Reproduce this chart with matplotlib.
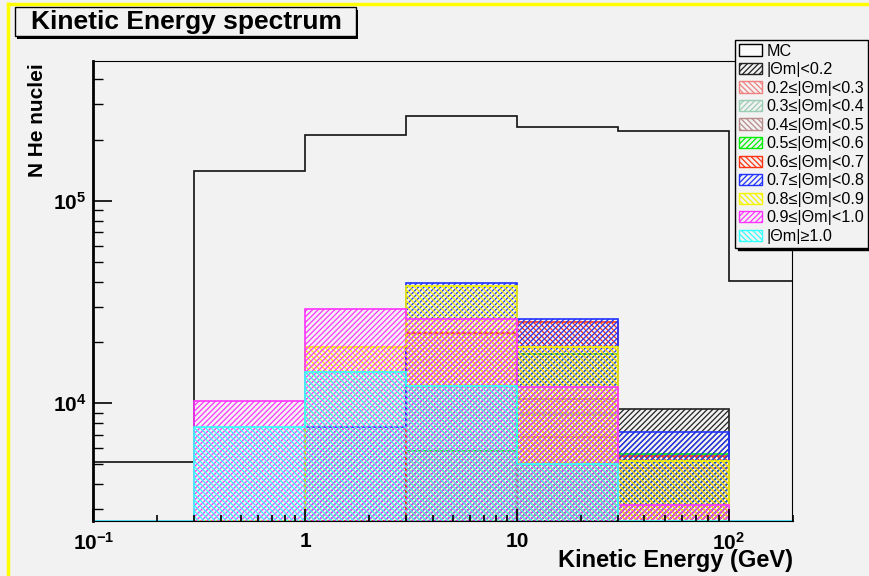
import numpy as np
import matplotlib
matplotlib.use('Agg')
import matplotlib.pyplot as plt
from matplotlib.patches import Patch, Rectangle
from matplotlib.lines import Line2D

plt.rcParams['font.family'] = ['Liberation Sans', 'DejaVu Sans']
plt.rcParams['mathtext.fontset'] = 'custom'
plt.rcParams['mathtext.rm'] = 'Liberation Sans:bold'
plt.rcParams['mathtext.default'] = 'rm'
plt.rcParams['hatch.linewidth'] = 0.9

# kinetic energy bins (GeV)
edges = [0.1, 0.3, 1, 3, 10, 30, 100, 200]

# MC spectrum
mc = [5150, 141000, 213000, 262000, 232000, 223000, 40300]

# counts per |Theta m| class (0 = empty bin)
th_lt02 = [0, 0, 0, 0, 0, 9370, 0]
th_02_03 = [0, 0, 0, 0, 6830, 4810, 0]
th_03_04 = [0, 0, 0, 0, 8850, 0, 0]
th_04_05 = [0, 0, 0, 0, 10470, 0, 0]
th_05_06 = [0, 0, 0, 5810, 17470, 5630, 0]
th_06_07 = [0, 0, 0, 22300, 25200, 5500, 0]
th_07_08 = [0, 0, 7610, 39500, 26000, 7190, 0]
th_08_09 = [0, 0, 19050, 38000, 19050, 5200, 0]
th_09_10 = [0, 10270, 29150, 26000, 12000, 3140, 0]
th_ge10 = [0, 7640, 14230, 12180, 5010, 0, 0]

labels = ['|Θm|<0.2', '0.2≤|Θm|<0.3', '0.3≤|Θm|<0.4', '0.4≤|Θm|<0.5',
          '0.5≤|Θm|<0.6', '0.6≤|Θm|<0.7', '0.7≤|Θm|<0.8', '0.8≤|Θm|<0.9',
          '0.9≤|Θm|<1.0', '|Θm|≥1.0']
colors = ['#222222', '#f08080', '#99ccb3', '#b88a8a', '#00ee00', '#ff3311',
          '#2233ff', '#f4f400', '#ff33ff', '#33ffff']
hatches = ['//////', '\\\\\\\\\\\\', '//////', '\\\\\\\\\\\\', '//////',
           '\\\\\\\\\\\\', '//////', '\\\\\\\\\\\\', '//////', '\\\\\\\\\\\\']

series = [th_lt02, th_02_03, th_03_04, th_04_05, th_05_06,
          th_06_07, th_07_08, th_08_09, th_09_10, th_ge10]

bg = '#f2f2f2'
ybot, ytop = 2620, 4.92e5

fig = plt.figure(figsize=(8.7, 5.76), dpi=100, facecolor=bg)
ax = fig.add_axes([93.3 / 870, 55 / 576, 699.2 / 870, 460 / 576])
ax.set_facecolor(bg)
ax.set_xscale('log')
ax.set_yscale('log')
ax.set_xlim(0.1, 200)
ax.set_ylim(ybot, ytop)

# MC outline
ax.stairs(mc, edges, baseline=ybot, color='#111111', lw=1.2, zorder=1)

# hatched histograms, each filled from the bottom
for vals, c, h in zip(series, colors, hatches):
    v = np.array(vals, dtype=float)
    v = np.where(v > 0, v, ybot)
    ax.stairs(v, edges, baseline=ybot, fill=True, facecolor='none',
              edgecolor=c, hatch=h, lw=1.2, zorder=2)

# axes styling (ROOT like)
for s in ['top', 'right', 'bottom']:
    ax.spines[s].set_linewidth(0.8)
ax.spines['left'].set_linewidth(2.0)
ax.set_axisbelow(False)
ax.tick_params(which='both', direction='in', top=False, right=False)
ax.tick_params(axis='y', which='major', length=14, width=1.2, pad=5)
ax.tick_params(axis='y', which='minor', length=7, width=1.0)
ax.tick_params(axis='x', which='major', length=9, width=1.2, pad=8)
ax.tick_params(axis='x', which='minor', length=4.5, width=1.2)
ax.set_xticks([0.1, 1, 10, 100])
ax.set_xticklabels(['$10^{-1}$', '1', '10', '$10^{2}$'])
ax.set_yticks([1e4, 1e5])
ax.set_yticklabels(['$10^{4}$', '$10^{5}$'])
for t in ax.get_xticklabels() + ax.get_yticklabels():
    t.set_fontsize(15)
    t.set_fontweight('bold')

fig.text(793 / 870, 1 - 560 / 576, 'Kinetic Energy (GeV)', ha='right',
         va='center', fontsize=17, fontweight='bold')
fig.text(38 / 870, 1 - 120 / 576, 'N He nuclei', rotation=90, ha='center',
         va='center', fontsize=15, fontweight='bold')

# title box with shadow
fig.add_artist(Rectangle((17.5 / 870, 1 - 38.5 / 576), 341 / 870, 29 / 576,
                         transform=fig.transFigure, facecolor='black',
                         edgecolor='black', lw=0))
fig.add_artist(Rectangle((15 / 870, 1 - 36 / 576), 341 / 870, 29 / 576,
                         transform=fig.transFigure, facecolor=bg,
                         edgecolor='black', lw=1))
fig.text(186 / 870, 1 - 21.5 / 576, 'Kinetic Energy spectrum', ha='center',
         va='center', fontsize=19, fontweight='bold')

# canvas highlight
fig.add_artist(Line2D([8 / 870, 8 / 870], [0, 1 - 4 / 576], color='yellow',
                      lw=2.5, transform=fig.transFigure))
fig.add_artist(Line2D([8 / 870, 1], [1 - 4 / 576, 1 - 4 / 576], color='yellow',
                      lw=2.5, transform=fig.transFigure))

handles = [Patch(facecolor='#fafafa', edgecolor='black', lw=1, label='MC')]
for l, c, h in zip(labels, colors, hatches):
    handles.append(Patch(facecolor='none', edgecolor=c, hatch=h, lw=1, label=l))
fig.legend(handles=handles, loc='upper left',
           bbox_to_anchor=(735 / 870, 1 - 40 / 576), frameon=True,
           fancybox=False, edgecolor='black', facecolor=bg, framealpha=1,
           shadow={'color': 'black', 'alpha': 1}, fontsize=11.6,
           handlelength=1.45, handleheight=0.7, labelspacing=0.22,
           borderpad=0.22, handletextpad=0.28, borderaxespad=0)

fig.savefig('out.png', dpi=100, facecolor=bg)
